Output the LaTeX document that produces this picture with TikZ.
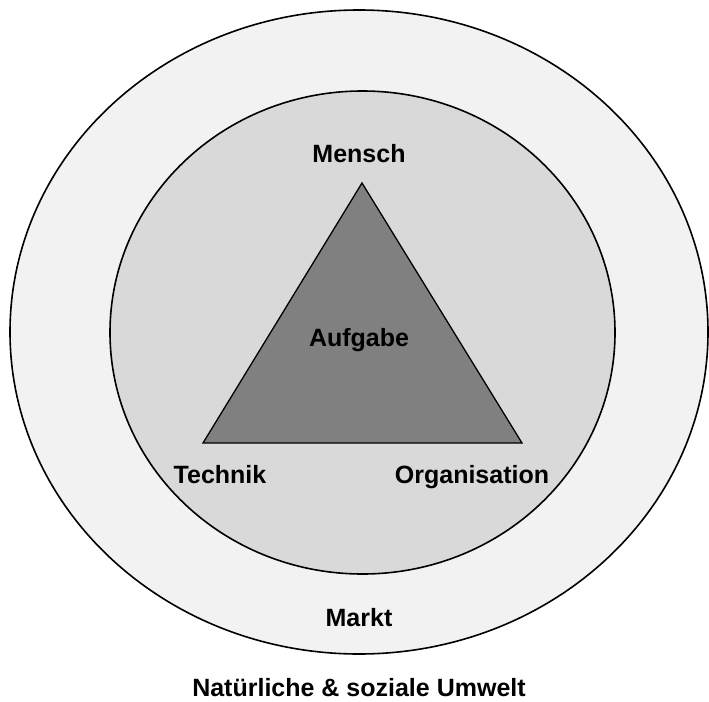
\documentclass[tikz,border=0pt]{standalone}
\usepackage{fontspec}
\setmainfont{Liberation Sans}
\begin{document}
\begin{tikzpicture}[x=1pt,y=-1pt,
  ring/.style={draw=black,line width=1.6pt},
  lbl/.style={font=\fontsize{25}{30}\selectfont\bfseries,inner sep=0pt,anchor=base}]
\definecolor{outerfill}{HTML}{F2F2F2}
\definecolor{innerfill}{HTML}{D9D9D9}
\definecolor{trifill}{HTML}{808080}
\useasboundingbox (0,0) rectangle (709,701);
% outer environment ellipse
\draw[ring,fill=outerfill] (359,332) ellipse [x radius=349,y radius=322];
% inner system ellipse
\draw[ring,fill=innerfill] (362.5,332.5) ellipse [x radius=252.5,y radius=241.5];
% task triangle
\coordinate (top) at (362,183);
\coordinate (bl) at (203,443);
\coordinate (br) at (522,443);
\draw[line width=1.3pt,fill=trifill,line join=miter] (top) -- (bl) -- (br) -- cycle;
% labels
\node[lbl] (mensch) at (359,162) {Mensch};
\node[lbl] (aufgabe) at (359,346) {Aufgabe};
\node[lbl] (technik) at (220,483) {Technik};
\node[lbl] (orga) at (472,483) {Organisation};
\node[lbl] (markt) at (359,626) {Markt};
\node[lbl] (umwelt) at (359,696) {Natürliche \& soziale Umwelt};
\end{tikzpicture}
\end{document}
